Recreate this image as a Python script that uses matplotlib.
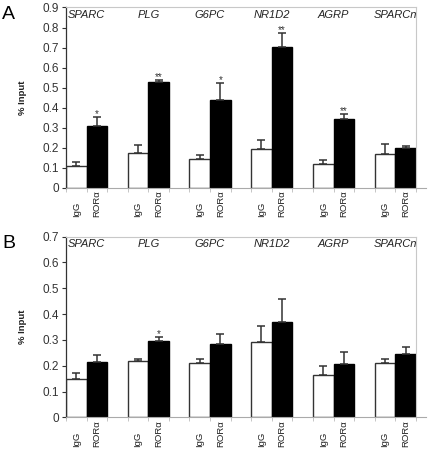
import numpy as np
import matplotlib.pyplot as plt
from matplotlib.lines import Line2D

plt.rcParams["font.family"] = ["Liberation Sans", "DejaVu Sans"]

genes = ["SPARC", "PLG", "G6PC", "NR1D2", "AGRP", "SPARCn"]
bar_labels = ["IgG", "RORα"]

# Panel A
a_igg = [0.108, 0.173, 0.145, 0.191, 0.116, 0.170]
a_igg_err = [0.022, 0.042, 0.020, 0.047, 0.020, 0.050]
a_ror = [0.309, 0.527, 0.438, 0.702, 0.341, 0.196]
a_ror_err = [0.042, 0.010, 0.083, 0.070, 0.026, 0.012]
a_stars = ["*", "**", "*", "**", "**", ""]

# Panel B
b_igg = [0.150, 0.220, 0.209, 0.293, 0.164, 0.209]
b_igg_err = [0.023, 0.005, 0.017, 0.061, 0.035, 0.018]
b_ror = [0.213, 0.296, 0.283, 0.371, 0.205, 0.246]
b_ror_err = [0.029, 0.015, 0.040, 0.089, 0.048, 0.028]
b_stars = ["", "*", "", "", "", ""]

DARK = "#333333"
FRAME = "#c8c8c8"


def draw_panel(ax, igg, igg_err, ror, ror_err, stars, ymax, letter):
    x = np.arange(len(genes)) * 3
    ekw = dict(ecolor=DARK, elinewidth=1.1, capsize=2.8, capthick=1.1)
    ax.bar(x + 0.5, igg, width=1.0, color="white", edgecolor=DARK, linewidth=1.0,
           yerr=[np.zeros(len(igg)), igg_err], error_kw=ekw, zorder=2)
    ax.bar(x + 1.5, ror, width=1.0, color="black", edgecolor="black", linewidth=1.0,
           yerr=[np.zeros(len(ror)), ror_err], error_kw=ekw, zorder=2)

    for xi, v, e, s in zip(x, ror, ror_err, stars):
        if s:
            ax.annotate(s, (xi + 1.5, v + e), xytext=(0, -1.5), textcoords="offset points",
                        ha="center", va="bottom", fontsize=7, color=DARK)

    ax.set_xlim(0, 17)
    ax.set_ylim(0, ymax)
    ax.set_yticks(np.round(np.arange(0, ymax + 0.001, 0.1), 1))
    ax.set_yticklabels(["0"] + [f"{t:.1f}" for t in np.arange(0.1, ymax + 0.001, 0.1)])
    ax.tick_params(axis="y", labelsize=8.5, length=3, width=0.8, color=DARK,
                   labelcolor="#333333", pad=2)
    ax.set_xticks(sorted(list(x) + list(x + 1) + list(x + 2)))
    ax.set_xticklabels([])
    ax.tick_params(axis="x", length=3, width=0.6, color="#bbbbbb")

    for side in ["top", "right"]:
        ax.spines[side].set_color(FRAME)
        ax.spines[side].set_linewidth(0.8)
    ax.spines["left"].set_color(DARK)
    ax.spines["left"].set_linewidth(0.9)
    ax.spines["bottom"].set_color("#aaaaaa")
    ax.spines["bottom"].set_linewidth(0.8)
    ax.add_line(Line2D([1.0, 1.03], [0, 0], transform=ax.transAxes, color="#aaaaaa",
                       linewidth=0.8, clip_on=False))

    for xi, g in zip(x, genes):
        ax.text(xi + 1.0, 0.985, g, transform=ax.get_xaxis_transform(), ha="center",
                va="top", fontsize=8, style="italic", color="#222222")

    for xi in x:
        for k, lab in enumerate(bar_labels):
            ax.text(xi + 0.5 + k, -0.162, lab, transform=ax.get_xaxis_transform(),
                    rotation=90, ha="center", va="bottom", fontsize=6.8, color="#222222")

    ax.set_ylabel("% Input", fontsize=6.8, fontweight="bold", labelpad=11, color="#222222")
    ax.text(-0.183, 1.01, letter, transform=ax.transAxes, fontsize=14, ha="left", va="top")


fig = plt.figure(figsize=(4.30, 4.51), dpi=100)
ax_a = fig.add_axes([0.1535, 0.5838, 0.8135, 0.3996])
ax_b = fig.add_axes([0.1535, 0.0747, 0.8135, 0.4005])

draw_panel(ax_a, a_igg, a_igg_err, a_ror, a_ror_err, a_stars, 0.9, "A")
draw_panel(ax_b, b_igg, b_igg_err, b_ror, b_ror_err, b_stars, 0.7, "B")

fig.savefig("out.png", dpi=100)
